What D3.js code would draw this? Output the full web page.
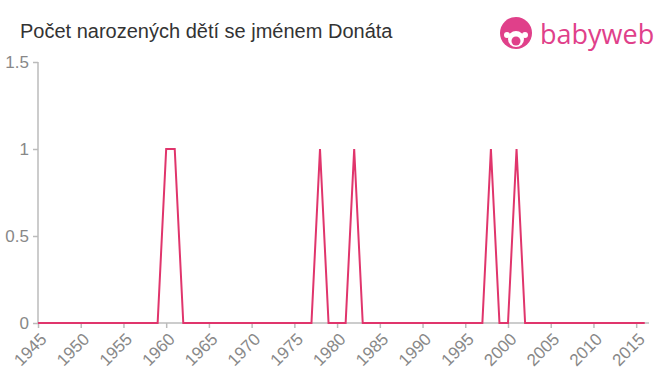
<!DOCTYPE html>
<html>
<head>
<meta charset="utf-8">
<script src="https://cdn.jsdelivr.net/npm/d3@7"></script>
<style>
  body { margin: 0; background: #fff; }
  text { font-family: "Liberation Sans", Arial, sans-serif; }
</style>
</head>
<body>
<svg id="chart" width="660" height="375"></svg>
<script>
// years 1945..2016, count of births per year
const years = d3.range(1945, 2017);
const onesAt = [1960, 1961, 1978, 1982, 1998, 2001];
const counts = years.map(y => onesAt.includes(y) ? 1 : 0);
const yTicks = [0, 0.5, 1, 1.5];
const xTicks = d3.range(1945, 2020, 5);

const svg = d3.select("#chart");

const x = d3.scaleLinear().domain([1945, 2016.5]).range([38, 649]);
const y = d3.scaleLinear().domain([0, 1.5]).range([323, 62]);

// title
svg.append("text")
  .attr("x", 20).attr("y", 38)
  .attr("fill", "#333")
  .style("font-size", "20px")
  .text("Počet narozených dětí se jménem Donáta");

// logo
const logo = svg.append("g").attr("transform", "translate(516,33)");
logo.append("circle").attr("r", 16).attr("fill", "#e0408a");
logo.append("circle").attr("cx", 0).attr("cy", 6).attr("r", 8).attr("fill", "#fff");
logo.append("circle").attr("cx", 0).attr("cy", 8).attr("r", 4.5).attr("fill", "#e0408a");
logo.append("circle").attr("cx", -9).attr("cy", 2).attr("r", 3).attr("fill", "#fff");
logo.append("circle").attr("cx", 9).attr("cy", 2).attr("r", 3).attr("fill", "#fff");
svg.append("text")
  .attr("x", 540).attr("y", 44)
  .attr("fill", "#e0408a")
  .style("font-size", "27px")
  .style("font-family", "'Open Sans', sans-serif")
  .text("babyweb");

// y axis
const yAxis = svg.append("g")
  .attr("transform", "translate(38,0)")
  .call(d3.axisLeft(y).tickValues(yTicks).tickSize(5).tickPadding(4).tickFormat(d3.format("")));
yAxis.select(".domain").attr("stroke", "#bbb").attr("stroke-width", 1.5).attr("d", "M0,62V323");
yAxis.selectAll(".tick line").attr("stroke", "#bbb").attr("stroke-width", 1.5);
yAxis.selectAll(".tick text").attr("fill", "#888").style("font-size", "17px");

// x axis
const xAxis = svg.append("g")
  .attr("transform", "translate(0,323)")
  .call(d3.axisBottom(x).tickValues(xTicks).tickSize(5).tickFormat(d3.format("d")));
xAxis.select(".domain").attr("stroke", "#bbb").attr("stroke-width", 1.5).attr("d", "M38,0H649");
xAxis.selectAll(".tick line").attr("stroke", "#bbb").attr("stroke-width", 1.5);
xAxis.selectAll(".tick text")
  .attr("fill", "#888")
  .style("font-size", "17px")
  .attr("text-anchor", "end")
  .attr("x", 0).attr("y", 0)
  .attr("dx", 0)
  .attr("dy", "0.35em")
  .attr("transform", "translate(5,13) rotate(-45)");

// line
const line = d3.line()
  .x((d, i) => x(years[i]))
  .y(d => y(d));

svg.append("path")
  .datum(counts)
  .attr("fill", "none")
  .attr("stroke", "#e0356c")
  .attr("stroke-width", 2)
  .attr("d", line);
</script>
</body>
</html>
